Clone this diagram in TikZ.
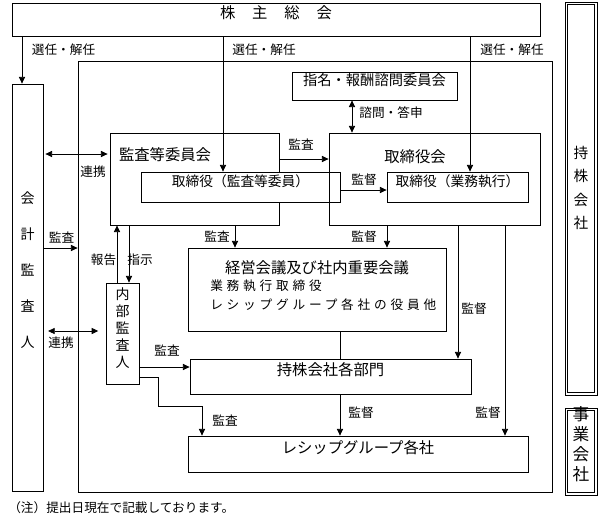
\documentclass[tikz,border=0pt]{standalone}
\usepackage{fontspec}
\setmainfont{Noto Sans CJK JP}
\newfontfamily\spacedfont[LetterSpace=30]{Noto Sans CJK JP}
\usetikzlibrary{arrows.meta,fit}

\tikzset{
  box/.style={draw, line width=0.6pt, inner sep=0pt, font=\fontsize{11.5}{14}\selectfont},
  subbox/.style={box, font=\fontsize{10.3}{12}\selectfont},
  dblbox/.style={draw, line width=0.7pt, inner sep=0pt},
  inner/.style={line width=0.5pt},
  vtext/.style={align=center, inner sep=0pt},
  lbl/.style={inner sep=0pt, font=\fontsize{9.5}{11}\selectfont},
  conn/.style={line width=0.6pt},
  arr/.style={conn, -{Triangle[length=5pt,width=4.6pt]}},
  biarr/.style={conn, {Triangle[length=5pt,width=4.6pt]}-{Triangle[length=5pt,width=4.6pt]}},
}

\begin{document}
\begin{tikzpicture}[x=0.75pt,y=0.75pt,yscale=-1,xscale=1]
\useasboundingbox (0,0) rectangle (600,519);

%Shape: Rectangle [shareholders]
\node[box, fit={(12,3) (540,36)}] (soukai) {株\hspace{1.1em}主\hspace{1.1em}総\hspace{1.1em}会};
%Shape: Rectangle [auditor]
\node[box, fit={(12,84) (43,491)}] (kaikei) {};
\node[vtext, font=\fontsize{10.5}{27}\selectfont] at (27.5,270) {会\\計\\監\\査\\人};
%Shape: Rectangle [company frame]
\node[box, fit={(78,61) (552,492)}] (frame) {};
%Shape: Rectangle
\node[subbox, font=\fontsize{10.7}{13}\selectfont, fit={(292,72) (457,100)}] (shimon) {指名・報酬諮問委員会};
%Shape: Rectangle
\node[box, fit={(110,133) (279,225)}] (kansaiin) {};
\node[lbl, font=\fontsize{11.5}{14}\selectfont] at (165,155) {監査等委員会};
%Shape: Rectangle
\node[subbox, fill=white, fit={(141,172) (340,202)}] (tkKansa) {取締役（監査等委員）};
%Shape: Rectangle
\node[box, fit={(329,133) (540,225)}] (board) {};
\node[lbl, font=\fontsize{11.5}{14}\selectfont] at (415,157) {取締役会};
%Shape: Rectangle
\node[subbox, fit={(387,172) (528,202)}] (tkGyomu) {取締役（業務執行）};
%Shape: Rectangle
\node[box, fit={(188,248) (446,331)}] (keiei) {};
\node[lbl, font=\fontsize{11.5}{14}\selectfont] at (317,268) {経営会議及び社内重要会議};
\node[lbl, anchor=west, font=\spacedfont\fontsize{9.5}{11}\selectfont] at (210,286) {業務執行取締役};
\node[lbl, anchor=west, font=\spacedfont\fontsize{9.5}{11}\selectfont] at (210,305) {レシップグループ各社の役員他};
%Shape: Rectangle [internal audit]
\node[box, vtext, font=\fontsize{10.5}{12.75}\selectfont, fit={(106,283) (139,384)}] (naibu) {内\\部\\監\\査\\人};
%Shape: Rectangle
\node[box, fit={(190,359) (471,394)}] (bumon) {持株会社各部門};
%Shape: Rectangle
\node[box, fit={(188,436) (528,472)}] (group) {レシップグループ各社};
%Shape: Double Rectangle
\node[dblbox, fit={(565,2) (597,395)}] (mochikabu) {};
\draw[inner] ([shift={(3,3)}]mochikabu.north west) rectangle ([shift={(-3,-3)}]mochikabu.south east);
\node[vtext, font=\fontsize{11}{17.5}\selectfont] at (581,188) {持\\株\\会\\社};
%Shape: Double Rectangle
\node[dblbox, vtext, font=\fontsize{12.5}{15}\selectfont, fit={(565,408) (597,495)}] (jigyo) {事\\業\\会\\社};
\draw[inner] ([shift={(3,3)}]jigyo.north west) rectangle ([shift={(-3,-3)}]jigyo.south east);

% columns and rows of the connectors
\coordinate (c22) at (22,0);
\coordinate (c117) at (117,0);
\coordinate (c129) at (129,0);
\coordinate (c223) at (223,0);
\coordinate (c235) at (235,0);
\coordinate (c340) at (340,0);
\coordinate (c352) at (352,0);
\coordinate (c387) at (387,0);
\coordinate (c458) at (458,0);
\coordinate (c470) at (470,0);
\coordinate (c505) at (505,0);
\coordinate (r154) at (0,154);
\coordinate (r159) at (0,159);
\coordinate (r190) at (0,190);
\coordinate (r248) at (0,248);
\coordinate (r331) at (0,331);
\coordinate (r367) at (0,367);
\coordinate (r377) at (0,377);
\coordinate (bendA) at (158,406);
\coordinate (bendB) at (202,406);

%Straight Lines
\draw[arr] (soukai.south -| c22) -- (kaikei.north -| c22);
\draw[arr] (soukai.south -| c223) -- (tkKansa.north -| c223);
\draw[arr] (soukai.south -| c470) -- (tkGyomu.north -| c470);
\draw[biarr] (shimon.south -| c352) -- (board.north -| c352);
\draw[arr] (kansaiin.east |- r159) -- (board.west |- r159);
\draw[arr] (tkKansa.east |- r190) -- (tkGyomu.west |- r190);
\draw[biarr, shorten <=1.5pt, shorten >=1.5pt] (kaikei.east |- r154) -- (kansaiin.west |- r154);
\draw[arr] (kaikei.east |- r248) -- (frame.west |- r248);
\draw[biarr, shorten <=3.5pt, shorten >=5.5pt] (kaikei.east |- r331) -- (naibu.west |- r331);
\draw[arr] (naibu.north -| c117) -- (kansaiin.south -| c117);
\draw[arr] (kansaiin.south -| c129) -- (naibu.north -| c129);
\draw[arr] (kansaiin.south -| c235) -- (keiei.north -| c235);
\draw[arr] (board.south -| c387) -- (keiei.north -| c387);
\draw[conn] (keiei.south -| c340) -- (bumon.north -| c340);
\draw[arr] (board.south -| c458) -- (bumon.north -| c458);
\draw[arr] (board.south -| c505) -- (group.north -| c505);
\draw[arr] (bumon.south -| c340) -- (group.north -| c340);
\draw[arr] (naibu.east |- r367) -- (bumon.west |- r367);
\draw[arr] (naibu.east |- r377) -| (bendA) -- (bendB) -- (group.north -| bendB);

% Text Node
\node[lbl] (senninA) at (63.5,50) {選任・解任};
\node[lbl] (senninB) at (264,50) {選任・解任};
\node[lbl] (senninC) at (512,50) {選任・解任};
\node[lbl] (shimonL) at (391,113) {諮問・答申};
\node[lbl] (kansaA) at (301,145) {監査};
\node[lbl] (kantokuA) at (364,180) {監督};
\node[lbl] (renkeiA) at (93,172) {連携};
\node[lbl] (kansaB) at (61.5,238) {監査};
\node[lbl] (hokoku) at (103.5,260) {報告};
\node[lbl] (shiji) at (140,260) {指示};
\node[lbl] (kansaC) at (217,237) {監査};
\node[lbl] (kantokuB) at (364,237) {監督};
\node[lbl] (renkeiB) at (61,343) {連携};
\node[lbl] (kansaD) at (167,351) {監査};
\node[lbl] (kantokuC) at (474,309) {監督};
\node[lbl] (kantokuD) at (361,413) {監督};
\node[lbl] (kantokuE) at (488,413) {監督};
\node[lbl] (kansaE) at (225,421) {監査};
% Text Node
\node[lbl, anchor=west] (note) at (8,508) {（注）提出日現在で記載しております。};

\end{tikzpicture}
\end{document}
